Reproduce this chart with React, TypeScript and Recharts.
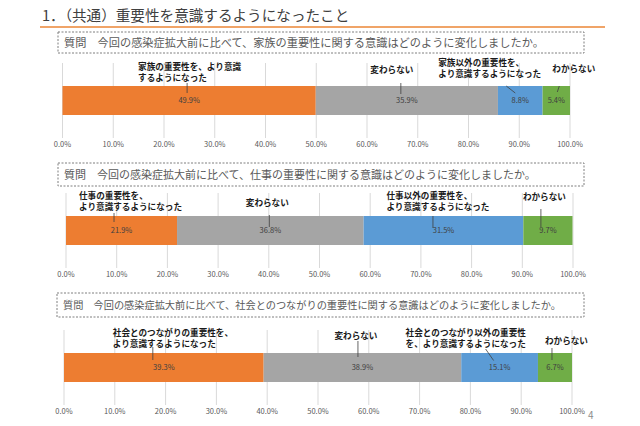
import { BarChart, Bar, XAxis, YAxis, CartesianGrid, LabelList } from 'recharts';

const seriesKeys = ['more', 'same', 'other', 'unknown'];
const seriesColors = ['#ED7D31', '#A5A5A5', '#5B9BD5', '#70AD47'];
const percentTicks = [0, 10, 20, 30, 40, 50, 60, 70, 80, 90, 100];

const pageTitle = '1．（共通）重要性を意識するようになったこと';

const familyQuestion = '質問　今回の感染症拡大前に比べて、家族の重要性に関する意識はどのように変化しましたか。';
const familyCategories = [['家族の重要性を、より意識', 'するようになった'], ['変わらない'], ['家族以外の重要性を、', 'より意識するようになった'], ['わからない']];
const familyValues = [49.9, 35.9, 8.8, 5.4];

const workQuestion = '質問　今回の感染症拡大前に比べて、仕事の重要性に関する意識はどのように変化しましたか。';
const workCategories = [['仕事の重要性を、', 'より意識するようになった'], ['変わらない'], ['仕事以外の重要性を、', 'より意識するようになった'], ['わからない']];
const workValues = [21.9, 36.8, 31.5, 9.7];

const socialQuestion = '質問　今回の感染症拡大前に比べて、社会とのつながりの重要性に関する意識はどのように変化しましたか。';
const socialCategories = [['社会とのつながりの重要性を、', 'より意識するようになった'], ['変わらない'], ['社会とのつながり以外の重要性', 'を、より意識するようになった'], ['わからない']];
const socialValues = [39.3, 38.9, 15.1, 6.7];

// callout placement relative to segment centre / bar top
type CalloutLayout = { anchor: 'start' | 'middle'; dx: number; dy: number[]; leader: number[] };

const familyCallouts: CalloutLayout[] = [
    { anchor: 'start', dx: -51, dy: [-20, -9.5], leader: [-2, -3, -2, 7] },
    { anchor: 'middle', dx: -15, dy: [-17], leader: [-6, -3, -6, 8] },
    { anchor: 'start', dx: -82, dy: [-24, -13.5], leader: [-14, 0, -5, 7] },
    { anchor: 'start', dx: -4, dy: [-18.5], leader: [3, 0, 1, 6] },
];
const workCallouts: CalloutLayout[] = [
    { anchor: 'start', dx: -42.5, dy: [-21, -10], leader: [-7.5, -3, -7.5, 6] },
    { anchor: 'middle', dx: -3, dy: [-14.5], leader: [-1, -1, -1, 11] },
    { anchor: 'start', dx: -57, dy: [-21, -10], leader: [-10.5, 0, -10.5, 12] },
    { anchor: 'start', dx: -25, dy: [-20], leader: [-7, -7, -7, 11] },
];
const socialCallouts: CalloutLayout[] = [
    { anchor: 'start', dx: -51, dy: [-21, -10], leader: [-11, -6, -11, 7] },
    { anchor: 'middle', dx: -6.5, dy: [-18], leader: [-4.5, -12, -4.5, 4] },
    { anchor: 'start', dx: -94, dy: [-21, -10], leader: [-14, -4, -6, 7.5] },
    { anchor: 'start', dx: -10, dy: [-13], leader: [-3, -5, -3, 7] },
];

const FONT = '"Noto Sans CJK JP", "Noto Sans", sans-serif';

function Callout(props: any) {
    const { lines, layout } = props;
    const vb = props.viewBox ?? {};
    const x = Number(vb.x ?? props.x);
    const y = Number(vb.y ?? props.y);
    const w = Number(vb.width ?? props.width);
    const cx = x + w / 2;
    const [x1, y1, x2, y2] = layout.leader;
    return (
        <g>
            <line x1={cx + x1} y1={y + y1} x2={cx + x2} y2={y + y2} stroke="#404040" strokeWidth={0.8} />
            {lines.map((t: string, i: number) => (
                <text
                    key={i}
                    x={cx + layout.dx}
                    y={y + layout.dy[i]}
                    textAnchor={layout.anchor}
                    dominantBaseline="central"
                    fontSize={8.6}
                    fontWeight={700}
                    fill="#1a1a1a"
                    fontFamily={FONT}
                >
                    {t}
                </text>
            ))}
        </g>
    );
}

interface ChartProps {
    top: number;
    left: number;
    right: number;
    values: number[];
    categories: string[][];
    callouts: CalloutLayout[];
}

function StackChart({ top, left, right, values, categories, callouts }: ChartProps) {
    const row: Record<string, any> = { name: 'q' };
    seriesKeys.forEach((k, i) => { row[k] = values[i]; });
    return (
        <div style={{ position: 'absolute', left: 0, top: top - 30 }}>
            <BarChart
                width={640}
                height={121}
                data={[row]}
                layout="vertical"
                margin={{ top: 30, right, bottom: 0, left }}
            >
                <CartesianGrid horizontal={false} stroke="#D9D9D9" />
                <XAxis
                    type="number"
                    domain={[0, 100]}
                    ticks={percentTicks}
                    tickFormatter={(v: number) => v.toFixed(1) + '%'}
                    axisLine={false}
                    tickLine={false}
                    tickSize={0}
                    tickMargin={4}
                    height={16}
                    interval={0}
                    tick={{ fontSize: 7.5, fill: '#595959', fontFamily: FONT }}
                />
                <YAxis type="category" dataKey="name" hide />
                {seriesKeys.map((k, i) => (
                    <Bar key={k} dataKey={k} stackId="s" fill={seriesColors[i]} barSize={29} isAnimationActive={false}>
                        <LabelList
                            dataKey={k}
                            position="center"
                            formatter={(v: any) => `${v}%`}
                            style={{ fontSize: 7.5, fill: '#404040', fontFamily: FONT }}
                        />
                        <LabelList
                            dataKey={k}
                            content={(p: any) => <Callout {...p} lines={categories[i]} layout={callouts[i]} />}
                        />
                    </Bar>
                ))}
            </BarChart>
        </div>
    );
}

function QuestionBox({ x, y, w, h, text, size }: { x: number; y: number; w: number; h: number; text: string; size: number }) {
    return (
        <>
            <svg style={{ position: 'absolute', left: x - 1, top: y - 1 }} width={w + 2} height={h + 2}>
                <rect x={1} y={1} width={w} height={h} fill="none" stroke="#7F7F7F" strokeWidth={1} strokeDasharray="2 1.5" />
            </svg>
            <div
                style={{
                    position: 'absolute', left: x + 6, top: y, height: h, lineHeight: `${h}px`,
                    fontSize: size, color: '#595959', whiteSpace: 'nowrap', fontFamily: FONT,
                }}
            >
                {text}
            </div>
        </>
    );
}

export default function App() {
    return (
        <div style={{ position: 'absolute', left: 0, top: 0, width: 640, height: 426, background: '#fff', fontFamily: FONT, overflow: 'hidden' }}>
            <div style={{ position: 'absolute', left: 42, top: 5, fontSize: 14.6, lineHeight: '20px', color: '#404040', whiteSpace: 'nowrap' }}>
                {pageTitle}
            </div>
            <div style={{ position: 'absolute', left: 40, top: 26, width: 565, height: 2, background: '#F0A468' }} />

            <QuestionBox x={58} y={32} w={526} h={21} text={familyQuestion} size={11.2} />
            <StackChart top={63} left={62.5} right={70} values={familyValues} categories={familyCategories} callouts={familyCallouts} />

            <QuestionBox x={58} y={163} w={526} h={23} text={workQuestion} size={11} />
            <StackChart top={193} left={66} right={67} values={workValues} categories={workCategories} callouts={workCallouts} />

            <QuestionBox x={57} y={293} w={527} h={24} text={socialQuestion} size={10.2} />
            <StackChart top={330} left={64} right={68} values={socialValues} categories={socialCategories} callouts={socialCallouts} />

            <div style={{ position: 'absolute', left: 588, top: 407, fontSize: 10, color: '#8c8c8c' }}>4</div>
        </div>
    );
}
